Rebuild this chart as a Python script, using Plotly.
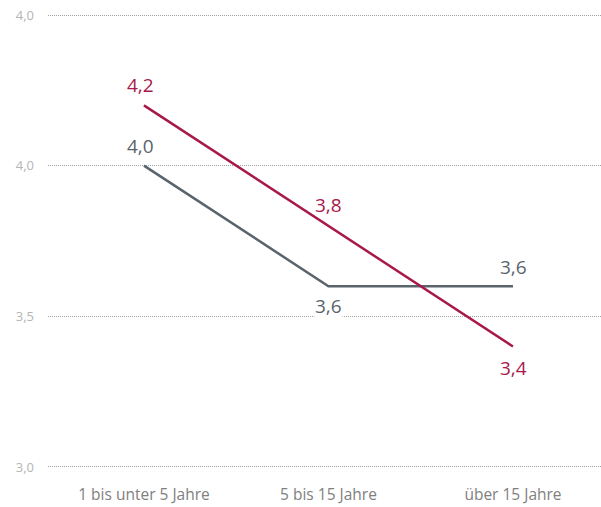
import plotly.graph_objects as go

categories = ["1 bis unter 5 Jahre", "5 bis 15 Jahre", "über 15 Jahre"]
series_red = [4.2, 3.8, 3.4]
series_grey = [4.0, 3.6, 3.6]
tick_vals = [3.0, 3.5, 4.0, 4.5]
tick_text = ["3,0", "3,5", "4,0", "4,0"]

RED = "#A8194B"
GREY = "#5A646C"
FONT = "Open Sans, sans-serif"

fig = go.Figure()
fig.add_trace(go.Scatter(
    x=categories, y=series_grey, mode="lines",
    line=dict(color=GREY, width=2.5),
    showlegend=False, hoverinfo="skip",
))
fig.add_trace(go.Scatter(
    x=categories, y=series_red, mode="lines",
    line=dict(color=RED, width=2.5),
    showlegend=False, hoverinfo="skip",
))

grey_shift = [20, -20, 19]
red_shift = [20, 21, -22]
grey_dx = [-3, 0, 1]
red_dx = [-3, 0, 1]
for i, c in enumerate(categories):
    fig.add_annotation(x=c, y=series_grey[i], text=f"{series_grey[i]:.1f}".replace(".", ","),
                       showarrow=False, yshift=grey_shift[i], xshift=grey_dx[i],
                       font=dict(color=GREY, size=19, family=FONT),
                       bgcolor="white", borderpad=0)
    fig.add_annotation(x=c, y=series_red[i], text=f"{series_red[i]:.1f}".replace(".", ","),
                       showarrow=False, yshift=red_shift[i], xshift=red_dx[i],
                       font=dict(color=RED, size=19, family=FONT),
                       bgcolor="rgba(0,0,0,0)", borderpad=0)

fig.update_layout(
    width=601, height=507,
    margin=dict(l=48, r=0, t=12, b=37),
    paper_bgcolor="white", plot_bgcolor="white",
    separators=",.",
    font=dict(family=FONT),
    xaxis=dict(
        type="category", range=[-0.52, 2.477], automargin=False,
        showgrid=False, zeroline=False, showline=False, ticks="",
        tickfont=dict(size=15.5, color="#808080", family=FONT),
        ticklabelstandoff=13,
    ),
    yaxis=dict(
        range=[2.99, 4.51], tickvals=tick_vals, ticktext=tick_text, automargin=False,
        showgrid=True, gridcolor="#a0a0a0", griddash="1px,1px", gridwidth=1,
        zeroline=False, showline=False, ticks="",
        tickfont=dict(size=13, color="#b5b5b5", family=FONT),
        ticklabelstandoff=13,
    ),
)

fig.write_html("out.html", config={"displayModeBar": False},
               post_script="document.body.style.margin='0';")
